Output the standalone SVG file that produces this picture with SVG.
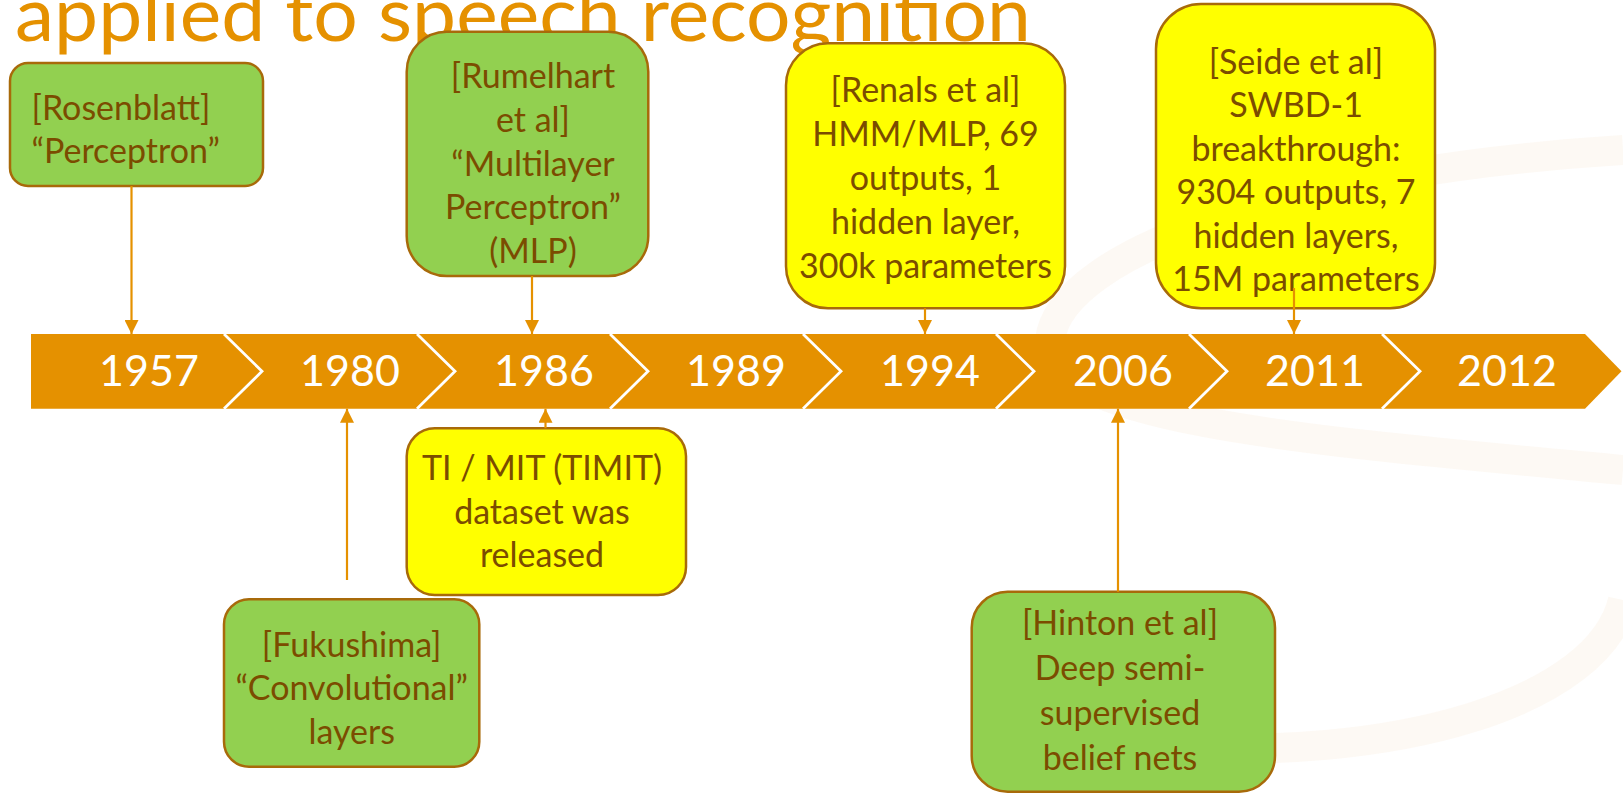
<svg xmlns="http://www.w3.org/2000/svg" width="1623" height="793" viewBox="0 0 1623 793">
<defs>
<style>
.box{stroke:#A86A0A;stroke-width:2.5}
.g{fill:#92D050}
.y{fill:#FFFF00}
.t{font-family:Lato,"Liberation Sans",sans-serif;font-size:34px;fill:#7B4C00}
.c{text-anchor:middle}
.yr{font-family:Lato,"Liberation Sans",sans-serif;font-size:43px;fill:#FFFFFF;text-anchor:middle}
.conn{stroke:#E59100;stroke-width:2.2;fill:none}
.sep{stroke:#FFFFFF;stroke-width:2.8;fill:none}
.sw{fill:none;stroke:#FCF6EF;stroke-width:30;opacity:0.7}
</style>
<marker id="ah" viewBox="0 0 14 14" refX="14" refY="7" markerWidth="14" markerHeight="14" markerUnits="userSpaceOnUse" orient="auto">
<path d="M0,0 L14,7 L0,14 Z" fill="#E59100"/>
</marker>
</defs>
<rect width="1623" height="793" fill="#FFFFFF"/>
<g id="background">
<path class="sw" d="M1623,150 C1300,170 1060,250 1050,340 C1045,420 1300,440 1623,470"/>
<path class="sw" d="M1150,745 C1400,765 1600,700 1623,600"/>
</g>
<text id="title" x="15" y="41" font-family="Lato,'Liberation Sans',sans-serif" font-size="76" fill="#E59100" textLength="1016" lengthAdjust="spacingAndGlyphs">applied to speech recognition</text>
<g id="timeline">
<path d="M31,334 H1585 L1621.5,371.3 L1585,408.7 H31 Z" fill="#E59100"/>
<polyline class="sep" points="224,334 262,371.3 224,408.7"/>
<polyline class="sep" points="417,334 455,371.3 417,408.7"/>
<polyline class="sep" points="610,334 648,371.3 610,408.7"/>
<polyline class="sep" points="803,334 841,371.3 803,408.7"/>
<polyline class="sep" points="996,334 1034,371.3 996,408.7"/>
<polyline class="sep" points="1189,334 1227,371.3 1189,408.7"/>
<polyline class="sep" points="1382,334 1420,371.3 1382,408.7"/>
<text class="yr" x="149" y="386">1957</text>
<text class="yr" x="350" y="386">1980</text>
<text class="yr" x="544" y="386">1986</text>
<text class="yr" x="736" y="386">1989</text>
<text class="yr" x="930" y="386">1994</text>
<text class="yr" x="1123" y="386">2006</text>
<text class="yr" x="1315" y="386">2011</text>
<text class="yr" x="1507" y="386">2012</text>
</g>
<g id="rosenblatt">
<rect class="box g" x="10" y="63" width="253" height="123" rx="18"/>
<text class="t" x="31.5" y="120">[Rosenblatt]</text>
<text class="t" x="31.5" y="163">“Perceptron”</text>
</g>
<g id="rumelhart">
<rect class="box g" x="406.7" y="31.7" width="241.6" height="244.3" rx="40"/>
<text class="t c" x="533" y="88">[Rumelhart</text>
<text class="t c" x="533" y="131.5">et al]</text>
<text class="t c" x="533" y="175.5">“Multilayer</text>
<text class="t c" x="533" y="219">Perceptron”</text>
<text class="t c" x="533" y="263">(MLP)</text>
</g>
<g id="renals">
<rect class="box y" x="786" y="43.3" width="279" height="265" rx="42"/>
<text class="t c" x="925.5" y="101.5">[Renals et al]</text>
<text class="t c" x="925.5" y="145.5">HMM/MLP, 69</text>
<text class="t c" x="925.5" y="189.5">outputs, 1</text>
<text class="t c" x="925.5" y="233.5">hidden layer,</text>
<text class="t c" x="925.5" y="277.5">300k parameters</text>
</g>
<g id="seide">
<rect class="box y" x="1156" y="4" width="279" height="304.3" rx="45"/>
<text class="t c" x="1296" y="73.5">[Seide et al]</text>
<text class="t c" x="1296" y="117">SWBD-1</text>
<text class="t c" x="1296" y="160.5">breakthrough:</text>
<text class="t c" x="1296" y="204">9304 outputs, 7</text>
<text class="t c" x="1296" y="247.5">hidden layers,</text>
<text class="t c" x="1296" y="291">15M parameters</text>
</g>
<g id="fukushima">
<rect class="box g" x="224" y="599.3" width="255.3" height="167.4" rx="25"/>
<text class="t c" x="351.7" y="657">[Fukushima]</text>
<text class="t c" x="351.7" y="700">“Convolutional”</text>
<text class="t c" x="351.7" y="743.5">layers</text>
</g>
<g id="timit">
<rect class="box y" x="406.7" y="428.3" width="279.3" height="166.7" rx="28"/>
<text class="t c" x="542" y="480">TI / MIT (TIMIT)</text>
<text class="t c" x="542" y="523.5">dataset was</text>
<text class="t c" x="542" y="567">released</text>
</g>
<g id="hinton">
<rect class="box g" x="971.7" y="591.7" width="303.3" height="200" rx="36"/>
<text class="t c" x="1120" y="635">[Hinton et al]</text>
<text class="t c" x="1120" y="680">Deep semi-</text>
<text class="t c" x="1120" y="725">supervised</text>
<text class="t c" x="1120" y="770">belief nets</text>
</g>
<g id="connectors">
<line class="conn" x1="131.5" y1="186" x2="131.5" y2="334" marker-end="url(#ah)"/>
<line class="conn" x1="532" y1="276" x2="532" y2="334" marker-end="url(#ah)"/>
<line class="conn" x1="925" y1="308.3" x2="925" y2="334" marker-end="url(#ah)"/>
<line class="conn" x1="1294" y1="288" x2="1294" y2="334" marker-end="url(#ah)"/>
<line class="conn" x1="347" y1="580" x2="347" y2="408.7" marker-end="url(#ah)"/>
<line class="conn" x1="545.5" y1="428.3" x2="545.5" y2="408.7" marker-end="url(#ah)"/>
<line class="conn" x1="1118" y1="591.7" x2="1118" y2="408.7" marker-end="url(#ah)"/>
</g>
</svg>
